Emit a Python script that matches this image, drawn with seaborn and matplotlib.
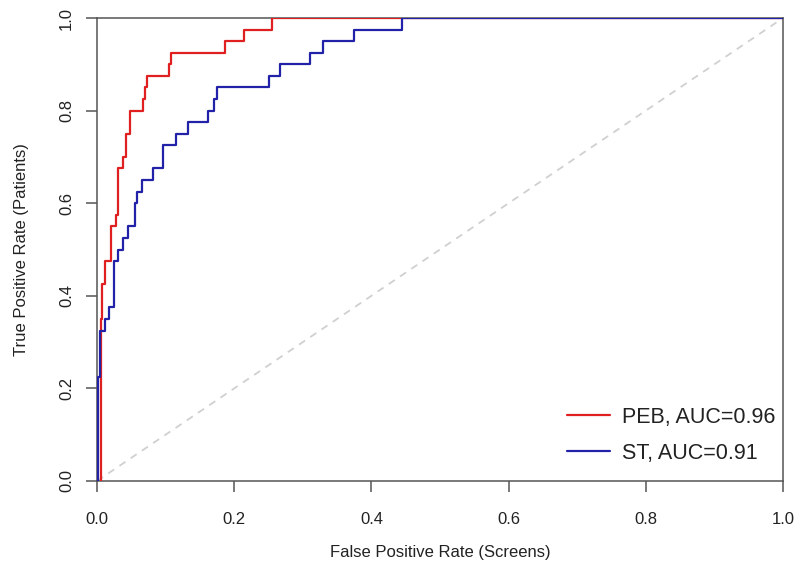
import matplotlib
matplotlib.use("Agg")
import matplotlib.pyplot as plt
import seaborn as sns
import pandas as pd

# PEB curve: false positive rate at each jump and true positive rate reached
peb_fpr = [0.006, 0.006, 0.008, 0.012, 0.020, 0.027, 0.030, 0.038, 0.042, 0.048,
           0.067, 0.070, 0.073, 0.105, 0.108, 0.187, 0.214, 0.255, 1.0]
peb_tpr = [0.0, 0.350, 0.425, 0.475, 0.550, 0.575, 0.675, 0.700, 0.750, 0.800,
           0.825, 0.850, 0.875, 0.900, 0.925, 0.950, 0.975, 1.000, 1.0]

# ST curve
st_fpr = [0.002, 0.002, 0.005, 0.012, 0.017, 0.025, 0.031, 0.038, 0.045, 0.055,
          0.058, 0.066, 0.082, 0.096, 0.115, 0.133, 0.162, 0.170, 0.175, 0.251,
          0.267, 0.311, 0.329, 0.375, 0.445, 1.0]
st_tpr = [0.0, 0.225, 0.325, 0.350, 0.375, 0.475, 0.500, 0.525, 0.550, 0.600,
          0.625, 0.650, 0.675, 0.725, 0.750, 0.775, 0.800, 0.825, 0.850, 0.875,
          0.900, 0.925, 0.950, 0.975, 1.000, 1.0]

labels = ["PEB, AUC=0.96", "ST, AUC=0.91"]
colors = ["#e02020", "#2222a8"]
x_ticks = [0.0, 0.2, 0.4, 0.6, 0.8, 1.0]
y_ticks = [0.0, 0.2, 0.4, 0.6, 0.8, 1.0]
diag = [0.0, 1.0]

sns.set_style("white")
plt.rcParams["font.family"] = ["Liberation Sans", "DejaVu Sans"]

fig = plt.figure(figsize=(8.0, 5.83), dpi=100)
ax = fig.add_axes([97/800, 1 - 481/583, 686/800, 463/583])

ax.plot(diag, diag, color="#d0d0d0", lw=1.3, dashes=(4, 3.5), zorder=1)

df_peb = pd.DataFrame({"fpr": peb_fpr, "tpr": peb_tpr})
df_st = pd.DataFrame({"fpr": st_fpr, "tpr": st_tpr})
sns.lineplot(data=df_peb, x="fpr", y="tpr", ax=ax, estimator=None, sort=False,
             drawstyle="steps-post", color=colors[0], lw=1.6, label=labels[0], zorder=3)
sns.lineplot(data=df_st, x="fpr", y="tpr", ax=ax, estimator=None, sort=False,
             drawstyle="steps-post", color=colors[1], lw=1.6, label=labels[1], zorder=3)

ax.set_xlim(0, 1)
ax.set_ylim(0, 1)
ax.set_xticks(x_ticks)
ax.set_yticks(y_ticks)
ax.set_xticklabels([f"{v:.1f}" for v in x_ticks])
ax.set_yticklabels([f"{v:.1f}" for v in y_ticks], rotation=90, va="center")

for s in ax.spines.values():
    s.set_color("#555555")
    s.set_linewidth(1.1)
ax.tick_params(axis="both", direction="out", length=8, width=1.1, color="#555555",
               labelsize=12, labelcolor="#222222", bottom=True, left=True)
ax.tick_params(axis="x", pad=14)
ax.tick_params(axis="y", pad=8.5)

ax.set_xlabel("False Positive Rate (Screens)", fontsize=12, color="#222222", labelpad=13)
ax.set_ylabel("True Positive Rate (Patients)", fontsize=12, color="#222222", labelpad=22)

leg = ax.legend(loc="center left", bbox_to_anchor=(0.657, 0.099), frameon=False,
                fontsize=15.5, handlelength=2.0, handletextpad=0.55, labelspacing=0.7)
for t in leg.get_texts():
    t.set_color("#222222")

fig.savefig("out.png", dpi=100)
